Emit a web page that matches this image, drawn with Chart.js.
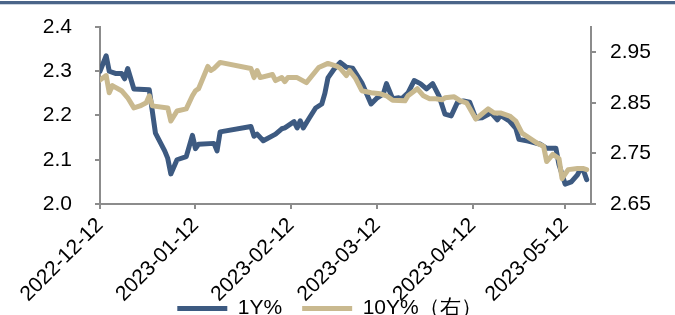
<!DOCTYPE html>
<html lang="zh">
<head>
    <meta charset="UTF-8">
    <title>1Y / 10Y</title>
    <script src="https://cdn.jsdelivr.net/npm/chart.js"></script>
    <style>
        html, body { margin: 0; padding: 0; background: #fff; }
    </style>
</head>
<body>
    <canvas id="rateChart" width="675" height="315"></canvas>

    <script>
        // days counted from 2022-12-12
        const tickDays = [0, 31, 62, 90, 121, 151];
        const tickLabels = ['2022-12-12', '2023-01-12', '2023-02-12', '2023-03-12', '2023-04-12', '2023-05-12'];
        const rightTicks = [2.65, 2.75, 2.85, 2.95];

        const days1Y = [0, 2, 3, 5, 7, 8, 9, 11, 16, 18, 21, 22, 23, 25, 28, 30, 31, 32, 37, 38, 39,
            49, 50, 51, 53, 57, 59, 60, 63, 64, 65, 66, 68, 70, 72, 73, 74, 76, 78, 80, 82, 85, 88,
            90, 92, 93, 95, 97, 98, 100, 102, 104, 106, 108, 110, 112, 114, 116, 118, 120, 122, 124,
            127, 129, 130, 133, 135, 136, 139, 143, 145, 148, 149, 151, 153, 155, 156, 157, 158];
        const rate1Y = [2.30, 2.335, 2.30, 2.295, 2.295, 2.283, 2.306, 2.26, 2.258, 2.16, 2.12, 2.103, 2.068, 2.10, 2.107, 2.155, 2.125, 2.135, 2.137, 2.12, 2.163,
            2.175, 2.153, 2.158, 2.143, 2.158, 2.17, 2.172, 2.186, 2.172, 2.188, 2.172, 2.195, 2.217, 2.226, 2.25, 2.285, 2.305, 2.32, 2.309, 2.307, 2.274, 2.226,
            2.24, 2.249, 2.272, 2.238, 2.24, 2.238, 2.251, 2.279, 2.272, 2.26, 2.272, 2.245, 2.203, 2.199, 2.229, 2.233, 2.23, 2.194, 2.195,
            2.206, 2.19, 2.20, 2.187, 2.171, 2.146, 2.142, 2.135, 2.126, 2.126, 2.089, 2.045, 2.05, 2.066, 2.08, 2.075, 2.055];

        const days10Y = [0, 2, 3, 4, 7, 9, 11, 13, 15, 16, 17, 22, 23, 25, 28, 30, 31, 32, 35, 36, 37, 39,
            49, 50, 51, 52, 56, 57, 59, 60, 61, 64, 67, 71, 74, 77, 78, 80, 81, 83, 85, 88,
            91, 93, 95, 99, 100, 103, 105, 107, 109, 111, 112, 115, 117, 119, 122, 124,
            126, 128, 130, 133, 135, 137, 142, 144, 145, 147, 149, 150, 152, 155, 157, 158];
        const rate10Y = [2.895, 2.904, 2.87, 2.884, 2.874, 2.86, 2.84, 2.844, 2.85, 2.864, 2.844, 2.84, 2.814, 2.834, 2.838, 2.864, 2.874, 2.878, 2.922, 2.914, 2.918, 2.93,
            2.918, 2.90, 2.914, 2.90, 2.906, 2.894, 2.90, 2.892, 2.90, 2.90, 2.89, 2.92, 2.928, 2.922, 2.918, 2.904, 2.914, 2.898, 2.874, 2.87,
            2.868, 2.864, 2.855, 2.854, 2.864, 2.878, 2.864, 2.858, 2.858, 2.856, 2.86, 2.862, 2.854, 2.85, 2.818, 2.828,
            2.838, 2.83, 2.83, 2.824, 2.814, 2.79, 2.77, 2.764, 2.734, 2.748, 2.74, 2.70, 2.718, 2.72, 2.72, 2.718];

        const blue = '#3d5a81';
        const tan = '#c9b98f';
        const axisGrey = '#8c8c8c';
        const font = { family: "'Liberation Sans', Arial, sans-serif", size: 21 };

        const toPoints = (days, vals) => days.map((d, i) => ({ x: d, y: vals[i] }));

        // thin header rule across the top of the picture
        const headerRule = {
            id: 'headerRule',
            beforeDraw(chart) {
                const ctx = chart.ctx;
                ctx.save();
                ctx.fillStyle = '#4b6589';
                ctx.fillRect(0, 1, chart.width, 3);
                ctx.fillStyle = '#cbd4df';
                ctx.fillRect(0, 4, chart.width, 1);
                ctx.restore();
            }
        };

        // the legend sits over the rotated date labels, like the original
        const legendLift = {
            id: 'legendLift',
            afterLayout(chart) {
                const lg = chart.legend;
                const dy = lg.top - 278;
                lg.top -= dy;
                lg.bottom -= dy;
                lg.left -= 8;
                lg.right -= 8;
            }
        };

        const noPad = (scale) => { scale.paddingTop = 0; scale.paddingBottom = 0; };

        Chart.defaults.font = font;
        Chart.defaults.color = '#000';

        new Chart(document.getElementById('rateChart'), {
            type: 'line',
            data: {
                datasets: [{
                    label: '1Y%',
                    data: toPoints(days1Y, rate1Y),
                    yAxisID: 'y',
                    borderColor: blue,
                    backgroundColor: blue,
                    order: 1
                }, {
                    label: '10Y%（右）',
                    data: toPoints(days10Y, rate10Y),
                    yAxisID: 'y2',
                    borderColor: tan,
                    backgroundColor: tan,
                    order: 0
                }]
            },
            options: {
                responsive: false,
                animation: false,
                devicePixelRatio: 1,
                layout: { padding: { top: 27, left: 0, right: 0, bottom: -53 } },
                datasets: {
                    line: {
                        borderWidth: 5,
                        pointBorderWidth: 5,
                        tension: 0,
                        borderJoinStyle: 'round',
                        borderCapStyle: 'round',
                        pointRadius: 0,
                        pointStyle: 'line'
                    }
                },
                plugins: {
                    tooltip: { enabled: false },
                    legend: {
                        position: 'bottom',
                        labels: {
                            usePointStyle: true,
                            pointStyleWidth: 50,
                            padding: 20,
                            sort: (a, b) => a.datasetIndex - b.datasetIndex
                        }
                    }
                },
                scales: {
                    x: {
                        type: 'linear',
                        min: 0,
                        max: 159.4,
                        afterBuildTicks: (scale) => { scale.ticks = tickDays.map(v => ({ value: v })); },
                        afterFit: (scale) => { scale.height = 113; scale.paddingLeft = 0; scale.paddingRight = 0; },
                        ticks: {
                            autoSkip: false,
                            minRotation: 45,
                            maxRotation: 45,
                            padding: 4,
                            callback: (v) => tickLabels[tickDays.indexOf(v)]
                        },
                        grid: { drawOnChartArea: false, tickLength: 5, color: axisGrey, lineWidth: 2 },
                        border: { color: axisGrey, width: 2 }
                    },
                    y: {
                        position: 'left',
                        min: 2.0,
                        max: 2.4,
                        afterFit: (scale) => { scale.width = 100; noPad(scale); },
                        ticks: { stepSize: 0.1, padding: 23, callback: (v) => v.toFixed(1) },
                        grid: { drawOnChartArea: false, tickLength: 5, color: axisGrey, lineWidth: 2 },
                        border: { color: axisGrey, width: 2 }
                    },
                    y2: {
                        position: 'right',
                        min: 2.65,
                        max: 3.0,
                        afterBuildTicks: (scale) => { scale.ticks = rightTicks.map(v => ({ value: v })); },
                        afterFit: (scale) => { scale.width = 84; noPad(scale); },
                        ticks: { padding: 14, callback: (v) => v.toFixed(2) },
                        grid: { drawOnChartArea: false, tickLength: 5, color: axisGrey, lineWidth: 2 },
                        border: { color: axisGrey, width: 2 }
                    }
                }
            },
            plugins: [headerRule, legendLift]
        });
    </script>
</body>
</html>
